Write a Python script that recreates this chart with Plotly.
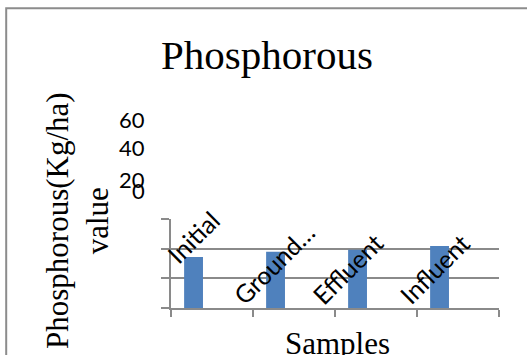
import plotly.graph_objects as go

# ---- data ----
categories = ["Initial", "Ground…", "Effluent", "Influent"]
phosphorous = [34.4, 38.0, 39.3, 41.8]
y_tick_values = [60, 40, 20, 0]
y_tick_labels = ["60", "40", "20", "0"]
chart_title = "Phosphorous"
y_title = "Phosphorous(Kg/ha)<br>value"
x_title = "Samples"

# ---- layout geometry ----
W, H = 527, 355
L, R, T, B = 171, 28, 219, 47
PW, PH = W - L - R, H - T - B


def px(x):
    return (x - L) / PW


def py(y):
    return (H - B - y) / PH


GRID = "#8a8a8a"
SANS = "Lato"
SERIF = "Liberation Serif"

fig = go.Figure()
fig.add_trace(go.Bar(
    x=categories, y=phosphorous,
    marker=dict(color="#4f81bd", line=dict(width=0)),
    width=0.23, offset=-0.34,
    hoverinfo="x+y",
))

annotations = []
# floating y tick labels (as drawn in the reference)
tick_label_y = [119, 147.5, 179, 190.5]
for lab, yy in zip(y_tick_labels, tick_label_y):
    annotations.append(dict(
        text=lab, xref="paper", yref="paper", x=px(147), y=py(yy),
        xanchor="right", yanchor="middle", showarrow=False,
        font=dict(family=SANS, size=22, color="black"),
    ))

# rotated category labels drawn inside plot area
label_shift = [(-19, 71), (-21, 44.5), (-29, 39.5), (-24, 39)]
for cat, (dx, dy) in zip(categories, label_shift):
    annotations.append(dict(
        text=cat, x=cat, y=0, xref="x", yref="y",
        xanchor="center", yanchor="middle", xshift=dx, yshift=dy,
        textangle=-45, showarrow=False,
        font=dict(family=SANS, size=25, color="black"),
    ))

# axis titles
annotations.append(dict(
    text=y_title, xref="paper", yref="paper", x=px(77), y=py(221),
    xanchor="center", yanchor="middle", textangle=-90, showarrow=False,
    font=dict(family=SERIF, size=31, color="black"),
))
annotations.append(dict(
    text=x_title, xref="paper", yref="paper", x=px(337), y=py(343),
    xanchor="center", yanchor="middle", showarrow=False,
    font=dict(family=SERIF, size=31, color="black"),
))
annotations.append(dict(
    text=chart_title, xref="paper", yref="paper", x=px(266.5), y=py(55),
    xanchor="center", yanchor="middle", showarrow=False,
    font=dict(family=SERIF, size=41, color="black"),
))

fig.update_layout(
    width=W, height=H,
    margin=dict(l=L, r=R, t=T, b=B, pad=0),
    paper_bgcolor="white", plot_bgcolor="white",
    showlegend=False,
    annotations=annotations,
    shapes=[dict(
        type="rect", xref="paper", yref="paper",
        x0=px(6.2), x1=px(540), y0=py(370), y1=py(8.3),
        line=dict(color="#8c8c8c", width=2), fillcolor="rgba(0,0,0,0)",
        layer="below",
    )],
    xaxis=dict(
        type="category", showgrid=False, showline=True, linecolor=GRID,
        linewidth=2, ticks="outside", tickson="boundaries", ticklen=7,
        tickcolor=GRID, tickwidth=2, showticklabels=False, zeroline=False,
        range=[-0.5, 3.5], fixedrange=True,
    ),
    yaxis=dict(
        range=[0, 60], tickvals=y_tick_values, showgrid=True, gridcolor=GRID,
        gridwidth=2, showline=True, linecolor=GRID, linewidth=2,
        ticks="outside", ticklen=8, tickcolor=GRID, tickwidth=2,
        showticklabels=False, zeroline=False, fixedrange=True,
    ),
)

fig.write_html("out.html", config={"displayModeBar": False})
